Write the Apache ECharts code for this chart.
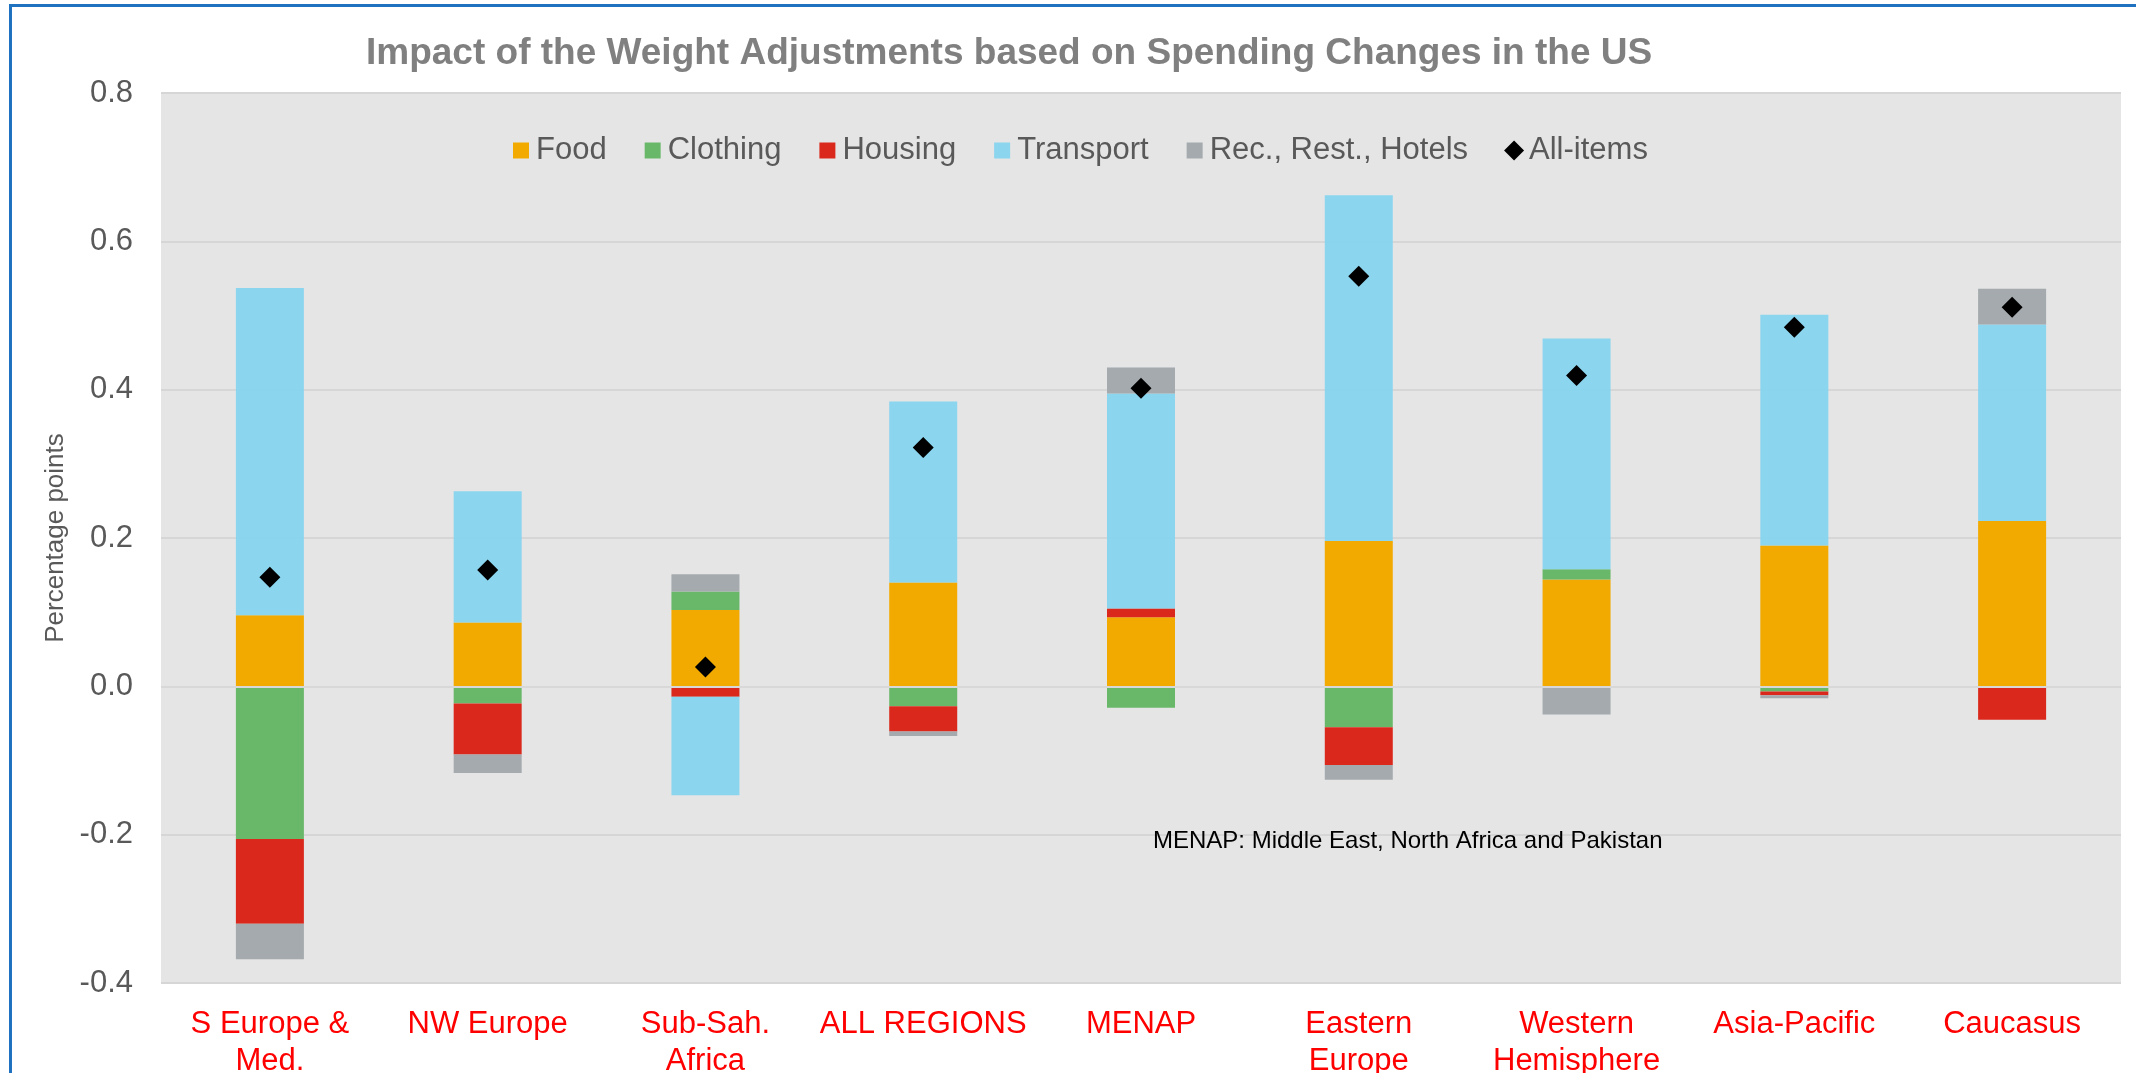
<!DOCTYPE html>
<html>
<head>
<meta charset="utf-8">
<script src="https://cdn.jsdelivr.net/npm/echarts@6/dist/echarts.min.js"></script>
<style>
  html, body { margin: 0; padding: 0; background: #fff; overflow: hidden; }
  #frame {
    position: absolute; left: 9px; top: 4px; width: 2300px; height: 1300px;
    border-top: 3px solid #1f72c0; border-left: 3px solid #1f72c0;
    pointer-events: none; z-index: 2;
  }
  #chart { position: absolute; left: 0; top: 0; width: 2136px; height: 1073px; }
</style>
</head>
<body>
<div id="chart"></div>
<div id="frame"></div>
<script>
// values (percentage points)
const categories = ["S Europe &\nMed.", "NW Europe", "Sub-Sah.\nAfrica", "ALL REGIONS", "MENAP",
  "Eastern\nEurope", "Western\nHemisphere", "Asia-Pacific", "Caucasus"];
const food = [0.096, 0.086, 0.103, 0.140, 0.093, 0.196, 0.144, 0.190, 0.223];
const clothing = [-0.206, -0.023, 0.025, -0.027, -0.029, -0.055, 0.014, -0.007, -0.002];
const housing = [-0.114, -0.069, -0.014, -0.034, 0.012, -0.051, 0, -0.005, -0.043];
const transport = [0.441, 0.177, -0.133, 0.244, 0.290, 0.466, 0.311, 0.311, 0.265];
const rec = [-0.048, -0.025, 0.023, -0.006, 0.035, -0.020, -0.038, -0.004, 0.048];
const allItems = [0.147, 0.157, 0.026, 0.322, 0.402, 0.553, 0.419, 0.484, 0.511];

const FONT = "'Liberation Sans', Arial, sans-serif";
// square legend marker, inset inside a 20x20 box so it stays smaller than the diamond
const SQUARE = "path://M0,0M20,20M2,2h16v16h-16z";

const chart = echarts.init(document.getElementById("chart"));

const barSeries = (name, data, color, extra) => Object.assign({
  name: name,
  type: "bar",
  stack: "total",
  barWidth: 68,
  data: data,
  itemStyle: { color: color }
}, extra || {});

const option = {
  animation: false,
  textStyle: { fontFamily: FONT },
  title: {
    text: "Impact of the Weight Adjustments based on Spending Changes in the US",
    left: 361,
    top: 30,
    textStyle: { fontSize: 37, fontWeight: "bold", color: "#808080", fontFamily: FONT }
  },
  legend: {
    left: 506,
    top: 130,
    itemWidth: 20,
    itemHeight: 20,
    itemGap: 36,
    textStyle: { fontSize: 31, color: "#595959", fontFamily: FONT },
    data: [
      { name: "Food", icon: SQUARE },
      { name: "Clothing", icon: SQUARE },
      { name: "Housing", icon: SQUARE },
      { name: "Transport", icon: SQUARE },
      { name: "Rec., Rest., Hotels", icon: SQUARE },
      { name: "All-items", icon: "diamond", itemStyle: { color: "#000" } }
    ]
  },
  grid: {
    left: 161,
    right: 15,
    top: 93,
    bottom: 90,
    outerBoundsMode: "none",
    show: true,
    backgroundColor: "#e5e5e5",
    borderWidth: 0
  },
  xAxis: {
    type: "category",
    data: categories,
    axisLine: { show: false, onZero: false },
    axisTick: { show: false },
    axisLabel: {
      interval: 0,
      color: "#ff0000",
      fontSize: 31,
      lineHeight: 37,
      margin: 23,
      fontFamily: FONT
    }
  },
  yAxis: {
    type: "value",
    min: -0.4,
    max: 0.8,
    interval: 0.2,
    name: "Percentage points",
    nameLocation: "middle",
    nameRotate: 90,
    nameGap: 92,
    nameTextStyle: { fontSize: 26, color: "#595959", fontFamily: FONT },
    axisLine: { show: false },
    axisTick: { show: false },
    axisLabel: {
      fontSize: 31,
      color: "#595959",
      margin: 28,
      fontFamily: FONT,
      formatter: (v) => v.toFixed(1)
    },
    splitLine: { lineStyle: { color: "#d6d6d6", width: 2 } }
  },
  graphic: [{
    type: "text",
    left: 1153,
    top: 829,
    z: 100,
    style: {
      text: "MENAP: Middle East, North Africa and Pakistan",
      fontSize: 24,
      fill: "#000",
      fontFamily: FONT
    }
  }],
  series: [
    barSeries("Food", food, "#f2aa00"),
    barSeries("Clothing", clothing, "#69b86a"),
    barSeries("Housing", housing, "#da291c"),
    barSeries("Transport", transport, "#84d4f0", { itemStyle: { color: "#84d4f0", opacity: 0.93 } }),
    barSeries("Rec., Rest., Hotels", rec, "#a4aaad", {
      markLine: {
        silent: true,
        symbol: "none",
        label: { show: false },
        lineStyle: { color: "#d8d8d8", width: 2, type: "solid" },
        data: [{ yAxis: 0 }]
      }
    }),
    {
      name: "All-items",
      type: "scatter",
      data: allItems,
      symbol: "diamond",
      symbolSize: 21,
      itemStyle: { color: "#000", opacity: 1 },
      z: 5
    }
  ]
};

chart.setOption(option);
</script>
</body>
</html>
